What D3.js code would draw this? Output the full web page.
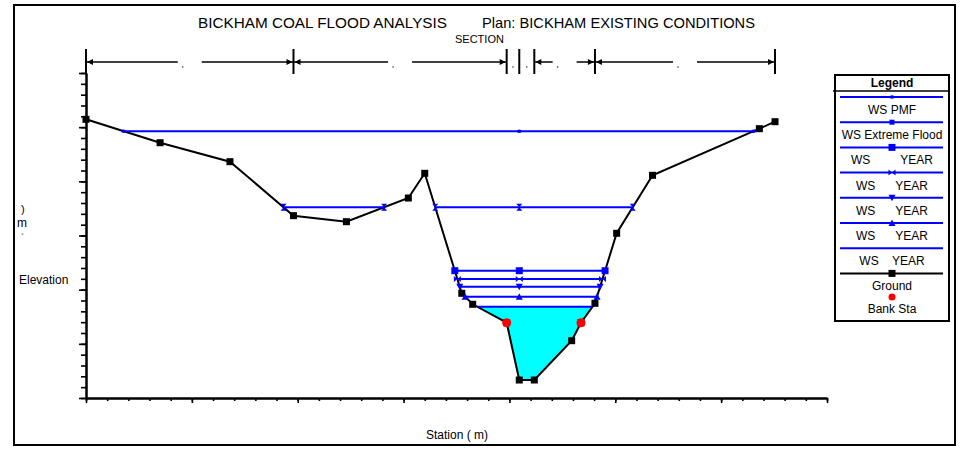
<!DOCTYPE html>
<html>
<head>
<meta charset="utf-8">
<script src="https://cdn.jsdelivr.net/npm/d3@7"></script>
<style>
  body { margin: 0; background: #fff; }
  text { font-family: "Liberation Sans", Arial, sans-serif; fill: #000; }
</style>
</head>
<body>
<svg id="chart" width="977" height="454"></svg>
<script>
// ground points (station m, elevation m)
const groundStation = [0, 70, 136, 196, 246, 304.5, 320, 355, 365.3, 397.4, 409.3, 423.5, 458.8, 467.6, 480.8, 501.3, 535.2, 636.1, 650.9];
const groundElev    = [51.45, 47.13, 43.63, 33.66, 32.55, 36.92, 41.48, 19.33, 17.30, 13.90, 3.32, 3.32, 10.58, 13.90, 17.48, 30.41, 41.11, 49.72, 51.01];

const bankStation = [397.4, 467.6];
const bankElev = [13.90, 13.90];

// water surfaces
const wsNames  = ["WS PMF", "WS Extreme Flood",
  "WS\u00a0\u00a0\u00a0\u00a0\u00a0\u00a0\u00a0\u00a0\u00a0YEAR",
  "WS\u00a0\u00a0\u00a0\u00a0\u00a0\u00a0YEAR",
  "WS\u00a0\u00a0\u00a0\u00a0\u00a0\u00a0YEAR",
  "WS\u00a0\u00a0\u00a0\u00a0\u00a0\u00a0YEAR",
  "WS\u00a0\u00a0\u00a0\u00a0YEAR"];
const wsLevels = [49.26, 35.21, 23.50, 21.97, 20.55, 18.70, 16.86];
const wsMarks  = ["dot", "hourglass", "square", "bowtie", "tdown", "tup", "none"];
const wsLegendMarks = ["dot", "smallsquare", "square", "bowtie", "tdown", "tup", "none"];
const midMarkStation = 409.3;

// section brackets along the top
const sectionStations = [0, 196, 397.4, 409.3, 423.5, 480.8, 650.9];

const svg = d3.select('#chart');

const x = d3.scaleLinear().domain([0, 700]).range([86, 827]);
const y = d3.scaleLinear().domain([0, 60]).range([398, 73]);

// outer frame
svg.append('rect').attr('x', 14).attr('y', 5).attr('width', 941).attr('height', 440)
  .attr('fill', 'none').attr('stroke', '#000').attr('stroke-width', 2);

// titles
svg.append('text').attr('x', 198).attr('y', 28).attr('font-size', 15)
  .attr('textLength', 249).attr('lengthAdjust', 'spacingAndGlyphs').text('BICKHAM COAL FLOOD ANALYSIS');
svg.append('text').attr('x', 482).attr('y', 28).attr('font-size', 15)
  .attr('textLength', 273).attr('lengthAdjust', 'spacingAndGlyphs').text('Plan: BICKHAM EXISTING CONDITIONS');
svg.append('text').attr('x', 455).attr('y', 43).attr('font-size', 11).text('SECTION');

// axes: minor and major ticks in separate groups
svg.append('g').attr('transform', `translate(0,${y(0)})`)
  .call(d3.axisBottom(x).tickValues(d3.range(0, 701, 20)).tickSize(3).tickSizeOuter(0).tickFormat(''));
svg.append('g').attr('transform', `translate(0,${y(0)})`)
  .call(d3.axisBottom(x).tickValues(d3.range(0, 701, 100)).tickSize(5).tickSizeOuter(0).tickFormat(''));
svg.append('g').attr('transform', `translate(${x(0)},0)`)
  .call(d3.axisLeft(y).tickValues(d3.range(0, 61, 2)).tickSize(5).tickSizeOuter(0).tickFormat(''));
svg.append('g').attr('transform', `translate(${x(0)},0)`)
  .call(d3.axisLeft(y).tickValues(d3.range(0, 61, 10)).tickSize(7).tickSizeOuter(0).tickFormat(''));
svg.selectAll('.domain').attr('stroke-width', 2);
svg.selectAll('.tick line').attr('stroke-width', 1.6);

svg.append('text').attr('x', 19).attr('y', 284).attr('font-size', 12).text('Elevation');
svg.append('text').attr('x', 21).attr('y', 213).attr('font-size', 11).text(')');
svg.append('text').attr('x', 17).attr('y', 227).attr('font-size', 12).text('m');
svg.append('text').attr('x', 21).attr('y', 240).attr('font-size', 9).text('`');
svg.append('text').attr('x', 426).attr('y', 439).attr('font-size', 12).text('Station ( m)');

// section brackets
const bracketY = 62;
const br = svg.append('g');
sectionStations.forEach(s => {
  br.append('line').attr('x1', x(s)).attr('x2', x(s)).attr('y1', 49).attr('y2', 74)
    .attr('stroke', '#000').attr('stroke-width', 2);
});
for (let i = 0; i < sectionStations.length - 1; i++) {
  const a = x(sectionStations[i]), b = x(sectionStations[i + 1]);
  const mid = (a + b) / 2;
  if (b - a > 40) {
    br.append('line').attr('x1', a).attr('x2', mid - 12).attr('y1', bracketY).attr('y2', bracketY)
      .attr('stroke', '#000').attr('stroke-width', 1.5);
    br.append('line').attr('x1', mid + 12).attr('x2', b).attr('y1', bracketY).attr('y2', bracketY)
      .attr('stroke', '#000').attr('stroke-width', 1.5);
    br.append('path').attr('d', `M${a + 1},${bracketY}l6,-3v6z`).attr('fill', '#000');
    br.append('path').attr('d', `M${b - 1},${bracketY}l-6,-3v6z`).attr('fill', '#000');
    br.append('circle').attr('cx', mid - 7).attr('cy', 67).attr('r', 0.8).attr('fill', '#333');
  } else {
    br.append('circle').attr('cx', mid).attr('cy', 67).attr('r', 0.8).attr('fill', '#333');
  }
}

// wet spans of a water level across the ground line
function wetSpans(level) {
  const spans = [];
  let start = null;
  for (let i = 0; i < groundStation.length - 1; i++) {
    const s0 = groundStation[i], s1 = groundStation[i + 1];
    const e0 = groundElev[i], e1 = groundElev[i + 1];
    if (e0 >= level && e1 < level) start = s0 + (e0 - level) / (e0 - e1) * (s1 - s0);
    else if (e0 < level && e1 >= level) spans.push([start, s0 + (level - e0) / (e1 - e0) * (s1 - s0)]);
  }
  return spans;
}

function markPath(type) {
  switch (type) {
    case 'dot': return 'M-2.5,0a2.5,1.8 0 1,0 5,0a2.5,1.8 0 1,0 -5,0Z';
    case 'square': return 'M-3.5,-3.5h7v7h-7Z';
    case 'smallsquare': return 'M-2.5,-2.5h5v5h-5Z';
    case 'hourglass': return 'M-3,-3.5L3,-3.5L-3,3.5L3,3.5Z';
    case 'bowtie': return 'M-3.5,-3L3.5,3L3.5,-3L-3.5,3Z';
    case 'tdown': return 'M-3.5,-3L3.5,-3L0,3.5Z';
    case 'tup': return 'M0,-3.5L3.5,3L-3.5,3Z';
    default: return '';
  }
}

// fill under the lowest water surface
const lowLevel = wsLevels[wsLevels.length - 1];
wetSpans(lowLevel).forEach(([a, b]) => {
  const pts = [[a, lowLevel]];
  groundStation.forEach((s, i) => { if (s > a && s < b) pts.push([s, groundElev[i]]); });
  pts.push([b, lowLevel]);
  svg.append('path')
    .attr('d', d3.line().x(d => x(d[0])).y(d => y(d[1]))(pts) + 'Z')
    .attr('fill', '#00ffff');
});

// ground
const groundPts = groundStation.map((s, i) => [s, groundElev[i]]);
svg.append('path')
  .attr('d', d3.line().x(d => x(d[0])).y(d => y(d[1]))(groundPts))
  .attr('fill', 'none').attr('stroke', '#000').attr('stroke-width', 2);
svg.selectAll('rect.gp').data(groundPts).join('rect').attr('class', 'gp')
  .attr('x', d => x(d[0]) - 3.5).attr('y', d => y(d[1]) - 3.5)
  .attr('width', 7).attr('height', 7).attr('fill', '#000');

// water surfaces
wsLevels.forEach((lev, i) => {
  const spans = wetSpans(lev);
  const g = svg.append('g');
  spans.forEach(([a, b]) => {
    g.append('line').attr('x1', x(a)).attr('x2', x(b)).attr('y1', y(lev)).attr('y2', y(lev))
      .attr('stroke', '#0000ff').attr('stroke-width', 2);
  });
  const markAt = [];
  spans.forEach(([a, b]) => { markAt.push(a, b); if (midMarkStation > a && midMarkStation < b) markAt.push(midMarkStation); });
  if (wsMarks[i] !== 'none') {
    markAt.forEach(s => {
      g.append('path').attr('d', markPath(wsMarks[i]))
        .attr('transform', `translate(${x(s)},${y(lev)})`).attr('fill', '#0000ff');
    });
  }
});

// bank stations
svg.selectAll('circle.bank').data(bankStation).join('circle').attr('class', 'bank')
  .attr('cx', d => x(d)).attr('cy', (d, i) => y(bankElev[i])).attr('r', 4.5).attr('fill', '#ff0000');

// legend
const lg = svg.append('g');
lg.append('rect').attr('x', 835).attr('y', 75).attr('width', 114).attr('height', 246)
  .attr('fill', '#fff').attr('stroke', '#000').attr('stroke-width', 2);
lg.append('line').attr('x1', 833).attr('x2', 949).attr('y1', 91).attr('y2', 91)
  .attr('stroke', '#000').attr('stroke-width', 1.5);
lg.append('text').attr('x', 892).attr('y', 87).attr('text-anchor', 'middle')
  .attr('font-size', 12).attr('font-weight', 'bold').text('Legend');
const rowH = 25.2;
wsNames.forEach((name, i) => {
  const ly = 97 + i * rowH;
  lg.append('line').attr('x1', 840).attr('x2', 943).attr('y1', ly).attr('y2', ly)
    .attr('stroke', '#0000ff').attr('stroke-width', 2);
  if (wsLegendMarks[i] !== 'none') {
    lg.append('path').attr('d', markPath(wsLegendMarks[i]))
      .attr('transform', `translate(892,${ly})`).attr('fill', '#0000ff');
  }
  lg.append('text').attr('x', 892).attr('y', ly + 17).attr('text-anchor', 'middle')
    .attr('font-size', 12).text(name);
});
const gy0 = 97 + wsNames.length * rowH;
lg.append('line').attr('x1', 840).attr('x2', 943).attr('y1', gy0).attr('y2', gy0)
  .attr('stroke', '#000').attr('stroke-width', 2);
lg.append('rect').attr('x', 888.5).attr('y', gy0 - 3.5).attr('width', 7).attr('height', 7).attr('fill', '#000');
lg.append('text').attr('x', 892).attr('y', gy0 + 17).attr('text-anchor', 'middle').attr('font-size', 12).text('Ground');
lg.append('circle').attr('cx', 892).attr('cy', gy0 + 23.5).attr('r', 3.5).attr('fill', '#ff0000');
lg.append('text').attr('x', 892).attr('y', gy0 + 40).attr('text-anchor', 'middle').attr('font-size', 12).text('Bank Sta');
</script>
</body>
</html>
